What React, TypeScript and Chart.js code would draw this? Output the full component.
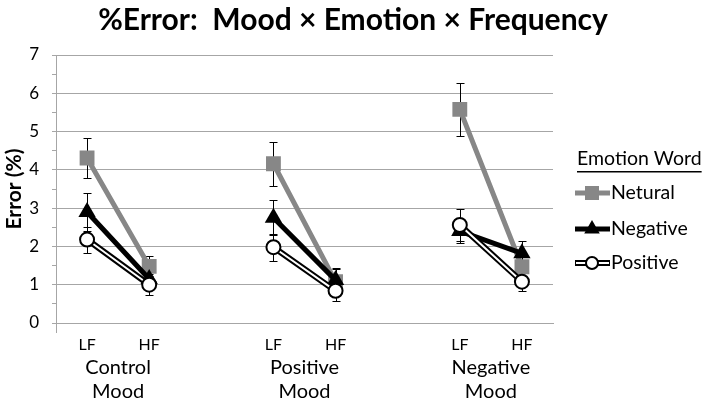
import React, { useEffect, useRef } from 'react';
import { Chart, registerables } from 'chart.js';

Chart.register(...registerables);

const FONT = 'Lato, "Open Sans", sans-serif';

const chartTitle = '%Error:  Mood × Emotion × Frequency';
const categories = ['LF', 'HF', '', 'LF', 'HF', '', 'LF', 'HF'];
const moodGroups = [['Control', 'Mood'], ['Positive', 'Mood'], ['Negative', 'Mood']];
const moodGroupIndex = [[0, 1], [3, 4], [6, 7]];

const legendTitle = 'Emotion Word';
const seriesNames = ['Netural', 'Negative', 'Positive'];
const neutral = [4.31, 1.48, null, 4.16, 1.08, null, 5.58, 1.47];
const neutralErr = [0.52, 0.26, null, 0.57, 0.35, null, 0.7, 0.3];
const negative = [2.9, 1.15, null, 2.75, 1.12, null, 2.4, 1.82];
const negativeErr = [0.5, 0.25, null, 0.45, 0.3, null, 0.3, 0.33];
const positive = [2.18, 1.0, null, 1.98, 0.84, null, 2.56, 1.08];
const positiveErr = [0.34, 0.27, null, 0.35, 0.26, null, 0.42, 0.24];

const yMin = 0;
const yMax = 7;

const GRAY = '#878787';
const GRID = '#a6a6a6';

const errorSeries = [
  { vals: neutral, errs: neutralErr },
  { vals: negative, errs: negativeErr },
  { vals: positive, errs: positiveErr },
];

const errorBarPlugin = {
  id: 'errorBars',
  beforeDatasetsDraw(chart: any) {
    const ctx = chart.ctx;
    const xs = chart.scales.x;
    const ys = chart.scales.y;
    ctx.save();
    ctx.strokeStyle = '#000';
    ctx.lineWidth = 1;
    errorSeries.forEach(({ vals, errs }) => {
      vals.forEach((v: any, i: number) => {
        const e = errs[i];
        if (v == null || e == null) return;
        const px = Math.round(xs.getPixelForValue(i)) + 0.5;
        const top = Math.round(ys.getPixelForValue(v + e)) + 0.5;
        const bot = Math.round(ys.getPixelForValue(v - e)) + 0.5;
        ctx.beginPath();
        ctx.moveTo(px, top);
        ctx.lineTo(px, bot);
        ctx.moveTo(px - 4, top);
        ctx.lineTo(px + 4, top);
        ctx.moveTo(px - 4, bot);
        ctx.lineTo(px + 4, bot);
        ctx.stroke();
      });
    });
    ctx.restore();
  },
};

function drawMarker(ctx: CanvasRenderingContext2D, kind: string, x: number, y: number) {
  ctx.save();
  if (kind === 'rect') {
    ctx.fillStyle = GRAY;
    ctx.fillRect(x - 7, y - 7, 14, 14);
  } else if (kind === 'triangle') {
    const r = 9;
    ctx.fillStyle = '#000';
    ctx.beginPath();
    ctx.moveTo(x, y - r);
    ctx.lineTo(x + r * 0.866, y + r * 0.5);
    ctx.lineTo(x - r * 0.866, y + r * 0.5);
    ctx.closePath();
    ctx.fill();
  } else {
    ctx.fillStyle = '#fff';
    ctx.strokeStyle = '#000';
    ctx.lineWidth = 2;
    ctx.beginPath();
    ctx.arc(x, y, 6, 0, Math.PI * 2);
    ctx.fill();
    ctx.stroke();
  }
  ctx.restore();
}

const annotationsPlugin = {
  id: 'annotations',
  afterDraw(chart: any) {
    const ctx = chart.ctx;
    const xs = chart.scales.x;
    const area = chart.chartArea;
    ctx.save();

    // chart title, centred on the whole canvas
    ctx.fillStyle = '#000';
    ctx.textAlign = 'center';
    ctx.textBaseline = 'middle';
    ctx.font = `bold 30px ${FONT}`;
    ctx.fillText(chartTitle, 353, 20);

    // small y-axis extension below zero
    ctx.strokeStyle = GRID;
    ctx.lineWidth = 1;
    ctx.beginPath();
    ctx.moveTo(Math.round(area.left) + 0.5, area.bottom);
    ctx.lineTo(Math.round(area.left) + 0.5, area.bottom + 10);
    ctx.stroke();

    // mood group labels
    ctx.fillStyle = '#000';
    ctx.textAlign = 'center';
    ctx.textBaseline = 'middle';
    ctx.font = `20px ${FONT}`;
    moodGroups.forEach((lines, g) => {
      const [a, b] = moodGroupIndex[g];
      const cx = (xs.getPixelForValue(a) + xs.getPixelForValue(b)) / 2;
      ctx.fillText(lines[0], cx, 368);
      ctx.fillText(lines[1], cx, 392);
    });

    // legend
    const lx = 577;
    ctx.textAlign = 'left';
    ctx.font = `19.5px ${FONT}`;
    ctx.fillText(legendTitle, lx, 159);
    const tw = ctx.measureText(legendTitle).width;
    ctx.fillRect(lx, 171, tw, 1.5);
    const rows = [193, 229, 263];
    const kinds = ['rect', 'triangle', 'circle'];
    rows.forEach((ry, i) => {
      const x0 = 575;
      const x1 = 610;
      const mx = 592;
      if (i === 2) {
        ctx.strokeStyle = '#000';
        ctx.lineWidth = 6;
        ctx.beginPath();
        ctx.moveTo(x0, ry);
        ctx.lineTo(x1, ry);
        ctx.stroke();
        ctx.strokeStyle = '#fff';
        ctx.lineWidth = 2;
        ctx.beginPath();
        ctx.moveTo(x0 + 1, ry);
        ctx.lineTo(x1 - 1, ry);
        ctx.stroke();
      } else {
        ctx.strokeStyle = i === 0 ? GRAY : '#000';
        ctx.lineWidth = 5;
        ctx.beginPath();
        ctx.moveTo(x0, ry);
        ctx.lineTo(x1, ry);
        ctx.stroke();
      }
      drawMarker(ctx, kinds[i], mx, ry);
      ctx.fillStyle = '#000';
      ctx.fillText(seriesNames[i], 611, ry);
    });
    ctx.restore();
  },
};

export default function App() {
  const canvasRef = useRef<HTMLCanvasElement | null>(null);

  useEffect(() => {
    const canvas = canvasRef.current;
    if (!canvas) return;
    const chart = new Chart(canvas, {
      type: 'line',
      data: {
        labels: categories,
        datasets: [
          {
            label: seriesNames[0],
            data: neutral,
            borderColor: GRAY,
            backgroundColor: GRAY,
            borderWidth: 5,
            pointStyle: 'rect',
            pointRadius: 10.5,
            pointHoverRadius: 10.5,
            pointBorderWidth: 0,
            pointBackgroundColor: GRAY,
            spanGaps: false,
            order: 3,
          },
          {
            label: seriesNames[1],
            data: negative,
            borderColor: '#000',
            backgroundColor: '#000',
            borderWidth: 5,
            pointStyle: 'triangle',
            pointRadius: 10,
            pointHoverRadius: 10,
            pointBorderWidth: 0,
            pointBackgroundColor: '#000',
            spanGaps: false,
            order: 2,
          },
          {
            label: 'Positive outline',
            data: positive,
            borderColor: '#000',
            borderWidth: 6,
            pointRadius: 0,
            pointHoverRadius: 0,
            spanGaps: false,
            order: 1.5,
          },
          {
            label: seriesNames[2],
            data: positive,
            borderColor: '#fff',
            borderWidth: 2,
            pointStyle: 'circle',
            pointRadius: 7,
            pointHoverRadius: 7,
            pointBackgroundColor: '#fff',
            pointBorderColor: '#000',
            pointBorderWidth: 2,
            spanGaps: false,
            order: 1,
          },
        ],
      },
      options: {
        animation: false,
        responsive: false,
        devicePixelRatio: 1,
        layout: { padding: { left: 0, right: 155, top: 55, bottom: 0 } },
        plugins: {
          legend: { display: false },
          tooltip: { enabled: false },
          title: { display: false },
        },
        scales: {
          x: {
            offset: true,
            grid: { display: false, drawTicks: false },
            border: { display: true, color: GRID, width: 1 },
            ticks: {
              autoSkip: false,
              maxRotation: 0,
              padding: 12,
              color: '#000',
              font: { family: FONT, size: 16 },
            },
            afterFit: (s: any) => {
              s.height = 81;
            },
          },
          y: {
            min: yMin,
            max: yMax,
            ticks: {
              stepSize: 0.5,
              autoSkip: false,
              padding: 13,
              color: '#000',
              font: { family: FONT, size: 17 },
              callback: (v: any) => (Number.isInteger(v) ? String(v) : ''),
            },
            grid: {
              color: (c: any) => (c.tick && Number.isInteger(c.tick.value) ? GRID : 'rgba(0,0,0,0)'),
              tickColor: GRID,
              tickLength: 4,
              lineWidth: 1,
            },
            border: { color: GRID, width: 1 },
            title: {
              display: true,
              text: 'Error (%)',
              color: '#000',
              font: { family: FONT, size: 21, weight: 'bold', lineHeight: 1.2 },
              padding: { top: 2, bottom: 0 },
            },
            afterFit: (s: any) => {
              s.width = 56;
            },
          },
        },
      },
      plugins: [errorBarPlugin, annotationsPlugin],
    } as any);
    return () => chart.destroy();
  }, []);

  return (
    <div style={{ position: 'absolute', left: 0, top: 0, width: 708, height: 404, background: '#fff' }}>
      <canvas ref={canvasRef} width={708} height={404} style={{ display: 'block' }} />
    </div>
  );
}
